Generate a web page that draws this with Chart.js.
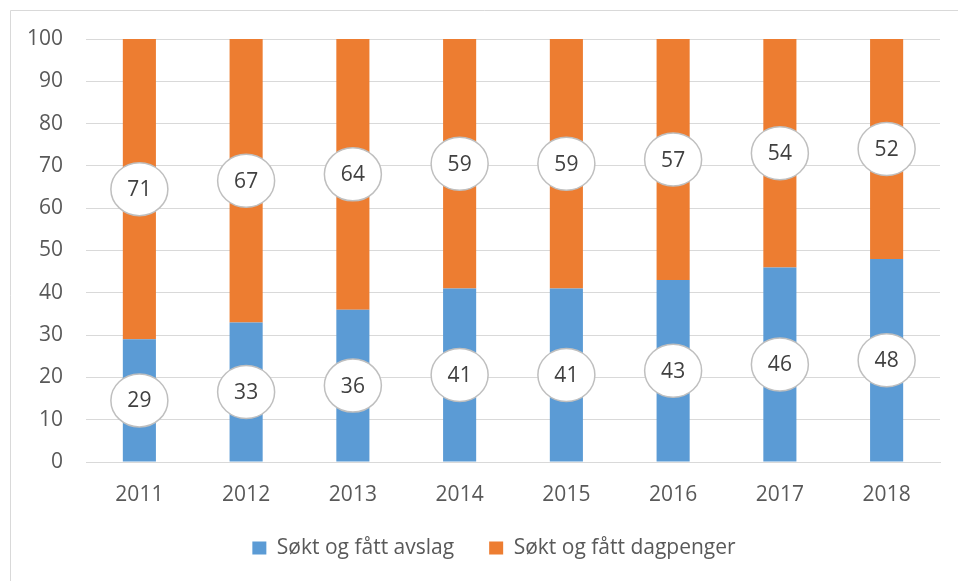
<!DOCTYPE html>
<html>
<head>
<meta charset="utf-8">
<script src="https://cdn.jsdelivr.net/npm/chart.js@4.4.1/dist/chart.umd.min.js"></script>
<style>
  html, body { margin: 0; padding: 0; background: #fff; }
  #wrap { width: 958px; height: 581px; }
</style>
</head>
<body>
<div id="wrap"><canvas id="myChart" width="958" height="581"></canvas></div>
<script>
const years = ['2011', '2012', '2013', '2014', '2015', '2016', '2017', '2018'];
const avslag = [29, 33, 36, 41, 41, 43, 46, 48];
const dagpenger = [71, 67, 64, 59, 59, 57, 54, 52];
const yTicks = [0, 10, 20, 30, 40, 50, 60, 70, 80, 90, 100];

const fontFamily = "'Open Sans', 'Noto Sans', sans-serif";

// frame like the Excel chart area (only top and left edge show)
const framePlugin = {
    id: 'frame',
    beforeDraw(chart) {
        const c = chart.ctx;
        c.save();
        c.fillStyle = '#fff';
        c.fillRect(0, 0, chart.width, chart.height);
        c.strokeStyle = '#d9d9d9';
        c.lineWidth = 1;
        c.beginPath();
        c.moveTo(10.5, chart.height);
        c.lineTo(10.5, 10.5);
        c.lineTo(chart.width, 10.5);
        c.stroke();
        c.restore();
    },
    afterLayout(chart) {
        // legend in the reference sits a bit right of the canvas centre
        chart.legend.left += 24;
        chart.legend.right += 24;
    }
};

// round white labels in the middle of each segment
const bubbleLabels = {
    id: 'bubbleLabels',
    afterDatasetsDraw(chart) {
        const c = chart.ctx;
        c.save();
        chart.data.datasets.forEach((ds, i) => {
            const meta = chart.getDatasetMeta(i);
            meta.data.forEach((bar, j) => {
                const p = bar.getProps(['x', 'y', 'base'], true);
                const cy = (p.y + p.base) / 2;
                c.beginPath();
                c.ellipse(p.x, cy, 28.5, 26.5, 0, 0, Math.PI * 2);
                c.fillStyle = '#fff';
                c.fill();
                c.lineWidth = 1.5;
                c.strokeStyle = '#bfbfbf';
                c.stroke();
                c.fillStyle = '#404040';
                c.font = '21px ' + fontFamily;
                c.textAlign = 'center';
                c.textBaseline = 'middle';
                c.fillText(ds.data[j], p.x, cy + 1);
            });
        });
        c.restore();
    }
};

const ctx = document.getElementById('myChart');
const myChart = new Chart(ctx, {
    type: 'bar',
    data: {
        labels: years,
        datasets: [{
            label: 'Søkt og fått avslag',
            data: avslag,
            backgroundColor: '#5b9bd5',
            borderWidth: 0
        }, {
            label: 'Søkt og fått dagpenger',
            data: dagpenger,
            backgroundColor: '#ed7d31',
            borderWidth: 0
        }]
    },
    options: {
        responsive: false,
        animation: false,
        devicePixelRatio: 1,
        datasets: {
            bar: { categoryPercentage: 1, barPercentage: 0.31 }
        },
        layout: {
            padding: { left: 0, right: 18, top: 39, bottom: 12.5 }
        },
        plugins: {
            tooltip: { enabled: false },
            legend: {
                position: 'bottom',
                labels: {
                    boxWidth: 14,
                    boxHeight: 13,
                    padding: 35,
                    color: '#595959',
                    font: { family: fontFamily, size: 21 }
                }
            }
        },
        scales: {
            x: {
                stacked: true,
                grid: { display: false, drawTicks: false },
                border: { color: '#d9d9d9', width: 1 },
                ticks: {
                    color: '#595959',
                    padding: 20,
                    font: { family: fontFamily, size: 21 }
                },
                afterFit(scale) { scale.height = 40.5; }
            },
            y: {
                stacked: true,
                min: 0,
                max: 100,
                afterBuildTicks(scale) {
                    scale.ticks = yTicks.map(v => ({ value: v }));
                },
                grid: { color: '#d9d9d9', lineWidth: 1, drawTicks: false },
                border: { display: false },
                ticks: {
                    color: '#595959',
                    padding: 23,
                    font: { family: fontFamily, size: 21 }
                },
                afterFit(scale) { scale.width = 86; }
            }
        }
    },
    plugins: [framePlugin, bubbleLabels]
});
</script>
</body>
</html>
